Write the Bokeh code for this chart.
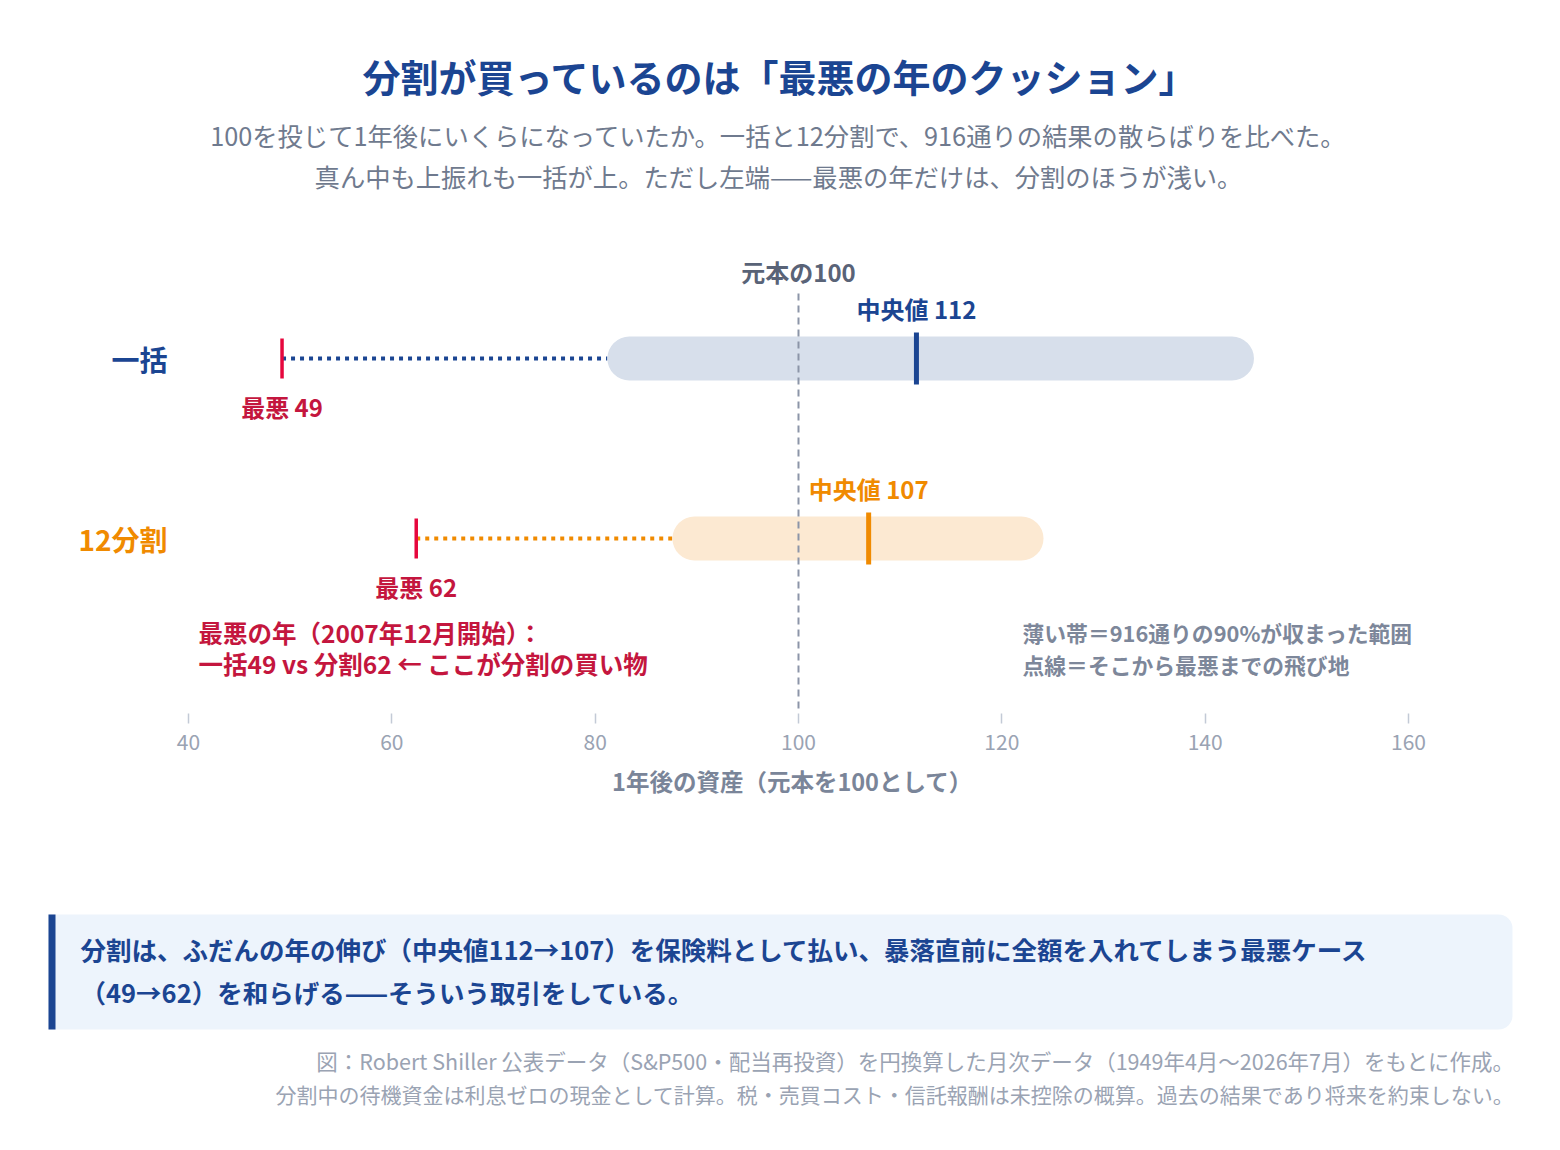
from bokeh.core.properties import value
from bokeh.embed import file_html
from bokeh.layouts import column
from bokeh.models import FixedTicker, LinearAxis, Range1d
from bokeh.plotting import figure
from bokeh.resources import INLINE

# data (value of 100 after one year)
methods = ["一括", "12分割"]
band_low = [81.2, 87.6]      # lower edge of the 90% band
band_high = [144.8, 124.1]   # upper edge of the 90% band
medians = [111.6, 106.9]
worsts = [49.2, 62.4]
principal = 100
n_paths = 916
x_ticks = [40, 60, 80, 100, 120, 140, 160]

NAVY = "#1b4592"
ORANGE = "#f08a00"
RED = "#e6073d"
RED_TEXT = "#c4163e"
GRAY = "#6f7a8e"
LIGHT_GRAY = "#9aa3b3"
band_fill = ["#d7dfeb", "#fce9d2"]
row_colors = [NAVY, ORANGE]
FONT = value("Noto Sans CJK JP")

# layout in page pixels
W = 1544
LEFT = 40          # frame starts here so the axis title centres like the original
TOP_H = 822
BOT_H = 312
frame_bottom = 713
row_y = [358, 538]
px40, px160 = 188, 1408
ppu = (px160 - px40) / (160 - 40)
x_lo = 40 - (px40 - LEFT) / ppu
x_hi = 40 + (W - px40) / ppu

p = figure(frame_width=W - LEFT, frame_height=frame_bottom,
           x_range=Range1d(x_lo, x_hi), y_range=Range1d(frame_bottom, 0),
           x_axis_location=None, y_axis_location=None,
           toolbar_location=None, output_backend="svg",
           min_border_left=LEFT, min_border_right=0, min_border_top=0,
           min_border_bottom=TOP_H - frame_bottom,
           outline_line_color=None, border_fill_color="white")
p.grid.visible = False
p.extra_x_ranges = {"px": Range1d(LEFT, W)}

ax = LinearAxis(ticker=FixedTicker(ticks=x_ticks),
                axis_line_color=None,
                major_tick_line_color="#c3cad6", major_tick_line_width=1.5,
                major_tick_in=0, major_tick_out=10,
                minor_tick_line_color=None,
                major_label_text_font="Noto Sans CJK JP",
                major_label_text_font_size="21px",
                major_label_text_color=LIGHT_GRAY,
                major_label_standoff=10,
                axis_label="1年後の資産（元本を100として）",
                axis_label_text_font="Noto Sans CJK JP",
                axis_label_text_font_style="bold",
                axis_label_text_font_size="23.5px",
                axis_label_text_color="#7a8599",
                axis_label_standoff=11)
p.add_layout(ax, "below")


def px_text(fig, x, y, text, size, color, align="left", bold=True):
    fig.text(x=[x], y=[y], text=[text], x_range_name="px",
             text_font=FONT, text_font_style="bold" if bold else "normal",
             text_font_size=size, text_color=color,
             text_align=align, text_baseline="middle")


# title block
px_text(p, 780, 75, "分割が買っているのは「最悪の年のクッション」", "38px", NAVY, "center")
px_text(p, 778, 134, f"100を投じて1年後にいくらになっていたか。一括と12分割で、{n_paths}通りの結果の散らばりを比べた。",
        "25.3px", GRAY, "center", bold=False)
px_text(p, 778, 175, "真ん中も上振れも一括が上。ただし左端——最悪の年だけは、分割のほうが浅い。",
        "25.3px", GRAY, "center", bold=False)

# dotted tails from the worst case to the band
p.segment(x0=worsts, y0=row_y, x1=band_low, y1=row_y,
          line_color=row_colors, line_width=4, line_dash="4 5")

# 90% bands
p.hbar(y=row_y, left=band_low, right=band_high, height=44,
       fill_color=band_fill, line_color=None, border_radius=22)

# principal line
p.segment(x0=[principal], y0=[293], x1=[principal], y1=[frame_bottom],
          line_color="#8c95a8", line_width=2, line_dash="7 5")
p.text(x=[principal], y=[271], text=[f"元本の{principal}"],
       text_font=FONT, text_font_style="bold", text_font_size="24px",
       text_color="#596377", text_align="center", text_baseline="middle")

# medians
p.segment(x0=medians, y0=[y - 26 for y in row_y], x1=medians, y1=[y + 26 for y in row_y],
          line_color=row_colors, line_width=5)
p.text(x=medians, y=[y - 50 for y in row_y], text=[f"中央値 {round(m)}" for m in medians],
       text_font=FONT, text_font_style="bold", text_font_size="24px",
       text_color=row_colors, text_align="center", text_baseline="middle")

# worst cases
p.segment(x0=worsts, y0=[y - 20 for y in row_y], x1=worsts, y1=[y + 20 for y in row_y],
          line_color=RED, line_width=3.5)
p.text(x=worsts, y=[y + 48 for y in row_y], text=[f"最悪 {round(w)}" for w in worsts],
       text_font=FONT, text_font_style="bold", text_font_size="24px",
       text_color=RED_TEXT, text_align="center", text_baseline="middle")

# row labels
p.text(x=[167, 167], y=row_y, text=methods, x_range_name="px",
       text_font=FONT, text_font_style="bold", text_font_size="28px",
       text_color=row_colors, text_align="right", text_baseline="middle")

# notes inside the chart
px_text(p, 198, 632, "最悪の年（2007年12月開始）：", "24.5px", RED_TEXT)
px_text(p, 198, 663, f"一括{round(worsts[0])} vs 分割{round(worsts[1])} ← ここが分割の買い物", "24.5px", RED_TEXT)
px_text(p, 1022, 632, f"薄い帯＝{n_paths}通りの90%が収まった範囲", "21.8px", "#7d879a")
px_text(p, 1022, 664, "点線＝そこから最悪までの飛び地", "21.8px", "#7d879a")

# lower block: takeaway box and source notes (frame aligned with the chart above)
q = figure(frame_width=W - LEFT, frame_height=BOT_H,
           x_range=Range1d(LEFT, W), y_range=Range1d(TOP_H + BOT_H, TOP_H),
           x_axis_location=None, y_axis_location=None,
           toolbar_location=None, output_backend="svg",
           min_border_left=LEFT, min_border_right=0, min_border_top=0, min_border_bottom=0,
           outline_line_color=None, border_fill_color="white")
q.grid.visible = False
q.extra_x_ranges = {"px": Range1d(LEFT, W)}

q.quad(left=[48], right=[1512], top=[914], bottom=[1029],
       fill_color="#edf4fc", line_color=None, border_radius=(0, 14, 14, 0))
q.quad(left=[48], right=[55], top=[914], bottom=[1029],
       fill_color=NAVY, line_color=None)
px_text(q, 80, 948, f"分割は、ふだんの年の伸び（中央値{round(medians[0])}→{round(medians[1])}）を保険料として払い、暴落直前に全額を入れてしまう最悪ケース",
        "25.5px", NAVY)
px_text(q, 80, 991, f"（{round(worsts[0])}→{round(worsts[1])}）を和らげる——そういう取引をしている。", "25.5px", NAVY)

px_text(q, 1514, 1060, "図：Robert Shiller 公表データ（S&P500・配当再投資）を円換算した月次データ（1949年4月〜2026年7月）をもとに作成。",
        "21.5px", LIGHT_GRAY, "right", bold=False)
px_text(q, 1514, 1093, "分割中の待機資金は利息ゼロの現金として計算。税・売買コスト・信託報酬は未控除の概算。過去の結果であり将来を約束しない。",
        "21px", LIGHT_GRAY, "right", bold=False)

layout = column(p, q)
open("out.html", "w").write(file_html(layout, INLINE))
